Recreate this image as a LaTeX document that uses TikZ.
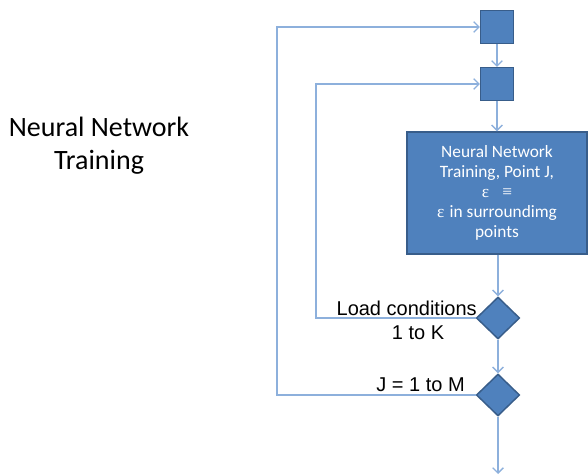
\documentclass[tikz,border=0pt]{standalone}
\usepackage{fontspec}
\setmainfont{Carlito}
\newfontfamily\arialfont{Liberation Sans}
\newfontfamily\greekfont{Liberation Serif}
\usetikzlibrary{arrows.meta,shapes.geometric}
\definecolor{boxblue}{HTML}{4F81BD}
\definecolor{boxedge}{HTML}{385D8A}
\definecolor{linkblue}{HTML}{8DB0DC}
\tikzset{
  sqbox/.style={draw=boxedge, fill=boxblue, line width=1.1pt, minimum width=24.5pt, minimum height=24.5pt, inner sep=0pt},
  nnbox/.style={draw=boxedge, fill=boxblue, line width=1.1pt, minimum width=135pt, minimum height=91.5pt, inner sep=2pt, text=white, align=center, font=\fontsize{13}{15}\selectfont},
  decide/.style={diamond, draw=boxedge, fill=boxblue, line width=1.1pt, minimum width=32.5pt, minimum height=31.5pt, inner sep=0pt},
  conn/.style={draw=linkblue, line width=1pt, -{Straight Barb[length=4pt,width=8pt]}},
  lbl/.style={font=\arialfont\fontsize{15}{17}\selectfont, inner sep=0pt}
}
\begin{document}
\begin{tikzpicture}[x=0.75pt,y=-0.75pt]
  \useasboundingbox (0,0) rectangle (588,474);

  % title on the left
  \node[align=center, font=\fontsize{21}{25}\selectfont] (title) at (99,146) {Neural Network\\Training};

  % main column
  \node[sqbox] (jloop) at (497,27) {};
  \node[sqbox] (kloop) at (497,84) {};
  \node[nnbox] (train) at (497,193) {Neural Network\\Training, Point J,\\{\greekfont ε\hspace{10pt}≡}\\{\greekfont ε}\hspace{4pt}in surroundimg\\points};
  \node[decide] (kdec) at (498,318) {};
  \node[decide] (jdec) at (498,395) {};
  \coordinate (out) at (498,474);

  \node[lbl, anchor=base east] (lc1) at (477,315) {Load conditions};
  \node[lbl, anchor=base] (lc2) at (418,339) {1 to K};
  \node[lbl, anchor=base east] (jm) at (465,391) {J = 1 to M};

  \draw[conn] (jloop) -- (kloop);
  \draw[conn] (kloop) -- (train);
  \draw[conn] (train.south -| kdec) -- (kdec);
  \draw[conn] (kdec) -- (jdec);
  \draw[conn] (jdec) -- (out);

  % loop backs
  \draw[conn] (kdec.west) -- (316,318) |- (kloop.west);
  \draw[conn] (jdec.west) -- (277,395) |- (jloop.west);
\end{tikzpicture}
\end{document}
